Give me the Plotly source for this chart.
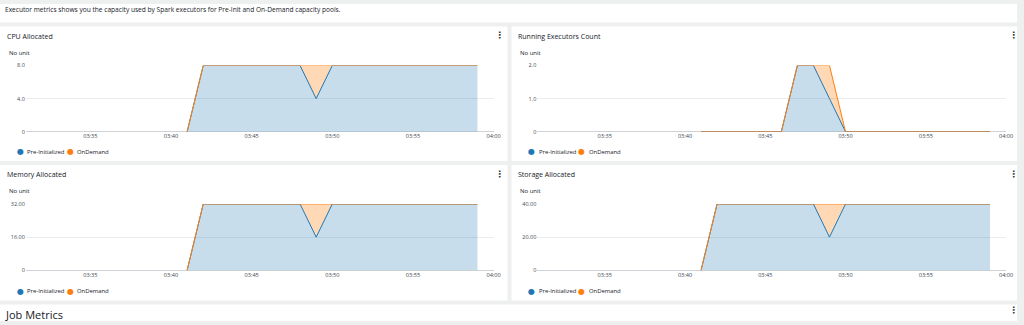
import plotly.graph_objects as go

# ---------------- data ----------------
minutes = ["03:41", "03:42", "03:43", "03:44", "03:45", "03:46", "03:47", "03:48", "03:49", "03:50",
           "03:51", "03:52", "03:53", "03:54", "03:55", "03:56", "03:57", "03:58", "03:59"]
times = ["2023-01-01 " + m + ":00" for m in minutes]

cpu_pre = [0, 8, 8, 8, 8, 8, 8, 8, 4, 8, 8, 8, 8, 8, 8, 8, 8, 8, 8]
cpu_od = [0, 0, 0, 0, 0, 0, 0, 0, 4, 0, 0, 0, 0, 0, 0, 0, 0, 0, 0]

run_pre = [0, 0, 0, 0, 0, 0, 2, 2, 1, 0, 0, 0, 0, 0, 0, 0, 0, 0, 0]
run_od = [0, 0, 0, 0, 0, 0, 0, 0, 1, 0, 0, 0, 0, 0, 0, 0, 0, 0, 0]

mem_pre = [0, 32, 32, 32, 32, 32, 32, 32, 16, 32, 32, 32, 32, 32, 32, 32, 32, 32, 32]
mem_od = [0, 0, 0, 0, 0, 0, 0, 0, 16, 0, 0, 0, 0, 0, 0, 0, 0, 0, 0]

sto_pre = [0, 40, 40, 40, 40, 40, 40, 40, 20, 40, 40, 40, 40, 40, 40, 40, 40, 40, 40]
sto_od = [0, 0, 0, 0, 0, 0, 0, 0, 20, 0, 0, 0, 0, 0, 0, 0, 0, 0, 0]

x_tick_labels = ["03:35", "03:40", "03:45", "03:50", "03:55", "04:00"]
x_tick_vals = ["2023-01-01 " + t + ":00" for t in x_tick_labels]

panels = [
    dict(title="CPU Allocated", pre=cpu_pre, od=cpu_od, yvals=[0, 4, 8], ytext=["0", "4.0", "8.0"]),
    dict(title="Running Executors Count", pre=run_pre, od=run_od, yvals=[0, 1, 2], ytext=["0", "1.0", "2.0"]),
    dict(title="Memory Allocated", pre=mem_pre, od=mem_od, yvals=[0, 16, 32], ytext=["0", "16.00", "32.00"]),
    dict(title="Storage Allocated", pre=sto_pre, od=sto_od, yvals=[0, 20, 40], ytext=["0", "20.00", "40.00"]),
]
series_names = ["Pre-Initialized", "OnDemand"]

# ---------------- style / layout ----------------
W, H = 1024, 325
FONT = "Open Sans"
BLUE = "#1f77b4"
ORANGE = "#ff7f0e"
BLUE_FILL = "rgba(31,119,180,0.25)"
ORANGE_FILL = "rgba(255,127,14,0.30)"
TXT = "#16191f"
SUB = "#414750"
BAND = "#eeefef"


def px(x):
    return x / W


def py(y):
    return 1 - y / H


cards = [(0, 23, 511, 161), (515, 23, 1024, 161), (0, 165, 511, 304), (515, 165, 1024, 304)]
plot_x = [(26, 497), (541, 1013), (26, 497), (541, 1013)]
plot_y = [(63, 131), (63, 131), (205, 273), (205, 273)]
x_ranges = [["2023-01-01 03:31:00", "2023-01-01 04:00:00"],
            ["2023-01-01 03:30:48", "2023-01-01 04:00:00"],
            ["2023-01-01 03:31:00", "2023-01-01 04:00:00"],
            ["2023-01-01 03:30:48", "2023-01-01 04:00:00"]]

fig = go.Figure()
layout = dict(
    width=W, height=H,
    margin=dict(l=0, r=0, t=0, b=0),
    paper_bgcolor=BAND,
    plot_bgcolor="rgba(0,0,0,0)",
    showlegend=False,
    hovermode=False,
    font=dict(family=FONT, color=TXT),
)
shapes = []
annotations = []

shapes.append(dict(type="rect", xref="paper", yref="paper", x0=0, x1=1, y0=py(19), y1=1,
                   fillcolor="white", line_width=0, layer="below"))
shapes.append(dict(type="rect", xref="paper", yref="paper", x0=0, x1=1, y0=0, y1=py(308),
                   fillcolor="white", line_width=0, layer="below"))

annotations.append(dict(text="Executor metrics shows you the capacity used by Spark executors for Pre-Init and On-Demand capacity pools.",
                        x=px(3), y=py(6), xref="paper", yref="paper", xanchor="left", yanchor="middle",
                        showarrow=False, font=dict(size=6.6, color=TXT, family=FONT)))
annotations.append(dict(text="Job Metrics", x=px(3), y=py(318), xref="paper", yref="paper",
                        xanchor="left", yanchor="middle", showarrow=False,
                        font=dict(size=11, color=TXT, family=FONT)))
annotations.append(dict(text="<b>⋮</b>", x=px(1020), y=py(314), xref="paper", yref="paper",
                        xanchor="center", yanchor="middle", showarrow=False,
                        font=dict(size=9, color="#333", family="DejaVu Sans")))

for i, p in enumerate(panels):
    n = i + 1
    xa = "x" if n == 1 else f"x{n}"
    ya = "y" if n == 1 else f"y{n}"
    xk = "xaxis" if n == 1 else f"xaxis{n}"
    yk = "yaxis" if n == 1 else f"yaxis{n}"
    cx0, cy0, cx1, cy1 = cards[i]
    shapes.append(dict(type="rect", xref="paper", yref="paper", x0=px(cx0), x1=px(cx1),
                       y0=py(cy1), y1=py(cy0), fillcolor="white", line_width=0, layer="below"))

    fig.add_trace(go.Scatter(x=times, y=p["pre"], name=series_names[0], xaxis=xa, yaxis=ya,
                             mode="lines", stackgroup=f"s{n}", line=dict(color=BLUE, width=1),
                             fillcolor=BLUE_FILL))
    fig.add_trace(go.Scatter(x=times, y=p["od"], name=series_names[1], xaxis=xa, yaxis=ya,
                             mode="lines", stackgroup=f"s{n}", line=dict(color=ORANGE, width=1),
                             fillcolor=ORANGE_FILL))

    (x0, x1), (y0, y1) = plot_x[i], plot_y[i]
    layout[xk] = dict(domain=[px(x0), px(x1)], anchor=ya, type="date", range=x_ranges[i],
                      showgrid=False, zeroline=False, showline=False, ticks="",
                      tickvals=x_tick_vals, ticktext=x_tick_labels,
                      tickfont=dict(size=5.6, color=SUB, family=FONT))
    layout[yk] = dict(domain=[py(y1), py(y0)], anchor=xa, range=[0, p["yvals"][-1]],
                      showgrid=True, gridcolor="#e9ebed", gridwidth=1,
                      zeroline=True, zerolinecolor="#cfd3d7", zerolinewidth=1,
                      showline=False, ticks="", tickvals=p["yvals"], ticktext=p["ytext"],
                      tickfont=dict(size=5.5, color=SUB, family=FONT))

    annotations.append(dict(text=p["title"], x=px(cx0 + 5), y=py(cy0 + 10), xref="paper", yref="paper",
                            xanchor="left", yanchor="middle", showarrow=False,
                            font=dict(size=7.0, color=TXT, family=FONT)))
    annotations.append(dict(text="No unit", x=px(cx0 + 7), y=py(cy0 + 27), xref="paper", yref="paper",
                            xanchor="left", yanchor="middle", showarrow=False,
                            font=dict(size=6.0, color=TXT, family=FONT)))
    annotations.append(dict(text="<b>⋮</b>", x=px(cx1 - 4 if cx1 == 1024 else cx1 - 8), y=py(cy0 + 9),
                            xref="paper", yref="paper", xanchor="center", yanchor="middle",
                            showarrow=False, font=dict(size=9, color="#333", family="DejaVu Sans")))
    leg_y = py(cy1 - 9.5)
    annotations.append(dict(text="●", x=px(cx0 + 20.5), y=leg_y,
                            xref="paper", yref="paper", xanchor="center", yanchor="middle", showarrow=False,
                            font=dict(size=8, color=BLUE, family="DejaVu Sans")))
    annotations.append(dict(text=series_names[0], x=px(cx0 + 25.5), y=leg_y, xref="paper", yref="paper",
                            xanchor="left", yanchor="middle", showarrow=False,
                            font=dict(size=5.9, color=TXT, family=FONT)))
    annotations.append(dict(text="●", x=px(cx0 + 71), y=leg_y,
                            xref="paper", yref="paper", xanchor="center", yanchor="middle", showarrow=False,
                            font=dict(size=8, color=ORANGE, family="DejaVu Sans")))
    annotations.append(dict(text=series_names[1], x=px(cx0 + 76), y=leg_y, xref="paper", yref="paper",
                            xanchor="left", yanchor="middle", showarrow=False,
                            font=dict(size=5.9, color=TXT, family=FONT)))

layout["shapes"] = shapes
layout["annotations"] = annotations
fig.update_layout(**layout)
fig.write_html("out.html")
